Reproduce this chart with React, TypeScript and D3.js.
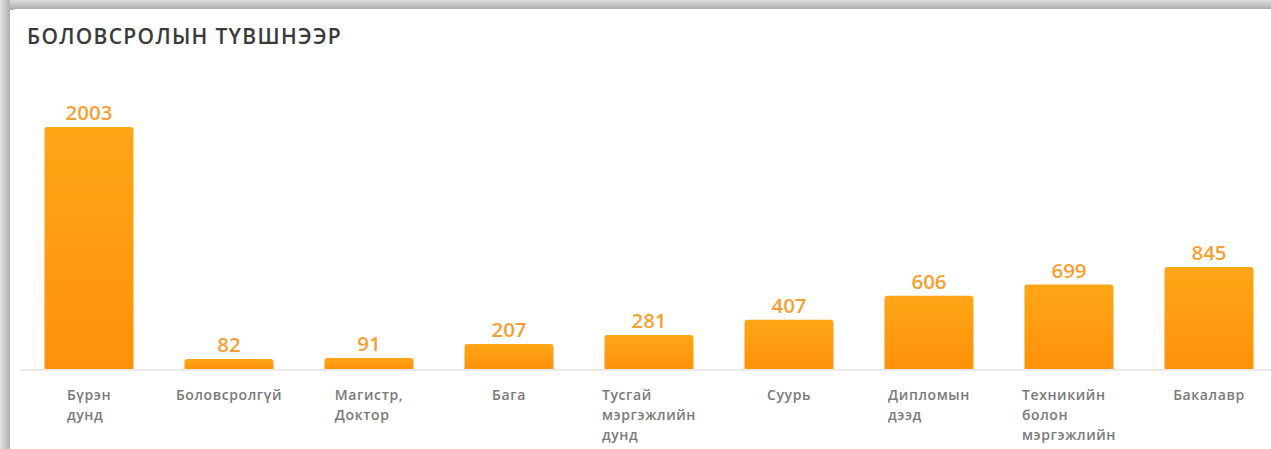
import React, { useEffect, useRef } from "react";
import * as d3 from "d3";

const categories: string[][] = [
  ["Бүрэн", "дунд"],
  ["Боловсролгүй"],
  ["Магистр,", "Доктор"],
  ["Бага"],
  ["Тусгай", "мэргэжлийн", "дунд"],
  ["Суурь"],
  ["Дипломын", "дээд"],
  ["Техникийн", "болон", "мэргэжлийн"],
  ["Бакалавр"],
];
const values: number[] = [2003, 82, 91, 207, 281, 407, 606, 699, 845];
const title = "БОЛОВСРОЛЫН ТҮВШНЭЭР";

const W = 1271;
const H = 449;
const FONT = "'Open Sans', 'Noto Sans', sans-serif";

export default function App() {
  const ref = useRef<SVGSVGElement>(null);

  useEffect(() => {
    const svg = d3.select(ref.current);
    svg.selectAll("*").remove();

    const defs = svg.append("defs");
    const gTop = defs.append("linearGradient").attr("id", "shTop").attr("x1", 0).attr("y1", 0).attr("x2", 0).attr("y2", 1);
    gTop.append("stop").attr("offset", "0%").attr("stop-color", "#dcdcdc");
    gTop.append("stop").attr("offset", "100%").attr("stop-color", "#a9a9a9");
    const gLeft = defs.append("linearGradient").attr("id", "shLeft").attr("x1", 0).attr("y1", 0).attr("x2", 1).attr("y2", 0);
    gLeft.append("stop").attr("offset", "0%").attr("stop-color", "#e2e2e2");
    gLeft.append("stop").attr("offset", "100%").attr("stop-color", "#b0b0b0");
    const gBar = defs.append("linearGradient").attr("id", "barG").attr("x1", 0).attr("y1", 0).attr("x2", 0).attr("y2", 1);
    gBar.append("stop").attr("offset", "0%").attr("stop-color", "#ffa617");
    gBar.append("stop").attr("offset", "100%").attr("stop-color", "#ff910a");

    // background shadow bands
    svg.append("rect").attr("x", 0).attr("y", 0).attr("width", W).attr("height", H).attr("fill", "#ffffff");
    svg.append("rect").attr("x", 0).attr("y", 0).attr("width", W).attr("height", 10).attr("fill", "url(#shTop)");
    svg.append("rect").attr("x", 0).attr("y", 0).attr("width", 10).attr("height", H).attr("fill", "url(#shLeft)");
    svg.append("rect").attr("x", 10).attr("y", 9).attr("width", W).attr("height", H).attr("rx", 6).attr("fill", "#ffffff");

    // title
    svg.append("text")
      .attr("x", 27).attr("y", 44)
      .attr("font-family", FONT).attr("font-size", 21).attr("font-weight", 600)
      .attr("letter-spacing", 1.3)
      .attr("fill", "#3a3a3a")
      .text(title);

    const baseline = 369;
    const x = d3.scaleBand<number>()
      .domain(d3.range(values.length))
      .range([19, 1279])
      .paddingInner(51 / 140)
      .paddingOuter(51 / 280);
    const y = d3.scaleLinear().domain([0, 2003]).range([baseline, 127]);

    // axis line
    svg.append("line")
      .attr("x1", 20).attr("x2", W).attr("y1", baseline + 1).attr("y2", baseline + 1)
      .attr("stroke", "#e3e3e3").attr("stroke-width", 1.5);

    const bw = x.bandwidth();
    const r = 3;
    values.forEach((v, i) => {
      const x0 = x(i)!;
      const top = y(v);
      const h = baseline - top;
      const rr = Math.min(r, h / 2);
      const path = `M${x0},${baseline} L${x0},${top + rr} Q${x0},${top} ${x0 + rr},${top} L${x0 + bw - rr},${top} Q${x0 + bw},${top} ${x0 + bw},${top + rr} L${x0 + bw},${baseline} Z`;
      svg.append("path").attr("d", path).attr("fill", "url(#barG)");
      svg.append("text")
        .attr("x", x0 + bw / 2).attr("y", top - 7)
        .attr("text-anchor", "middle")
        .attr("font-family", FONT).attr("font-size", 20.5).attr("font-weight", 600)
        .attr("fill", "#f6a033")
        .text(String(v));

      const t = svg.append("text")
        .attr("font-family", FONT).attr("font-size", 14).attr("font-weight", 600)
        .attr("letter-spacing", 0.6)
        .attr("fill", "#7a7a7a");
      categories[i].forEach((line, j) => {
        t.append("tspan").attr("x", 0).attr("y", 400 + j * 20).text(line);
      });
      let maxW = 0;
      t.selectAll<SVGTSpanElement, unknown>("tspan").each(function () {
        maxW = Math.max(maxW, this.getComputedTextLength());
      });
      const sx = x0 + bw / 2 - maxW / 2;
      t.selectAll("tspan").attr("x", sx);
    });
  }, []);

  return (
    <svg
      ref={ref}
      width={W}
      height={H}
      style={{ position: "absolute", left: 0, top: 0, display: "block" }}
    />
  );
}
